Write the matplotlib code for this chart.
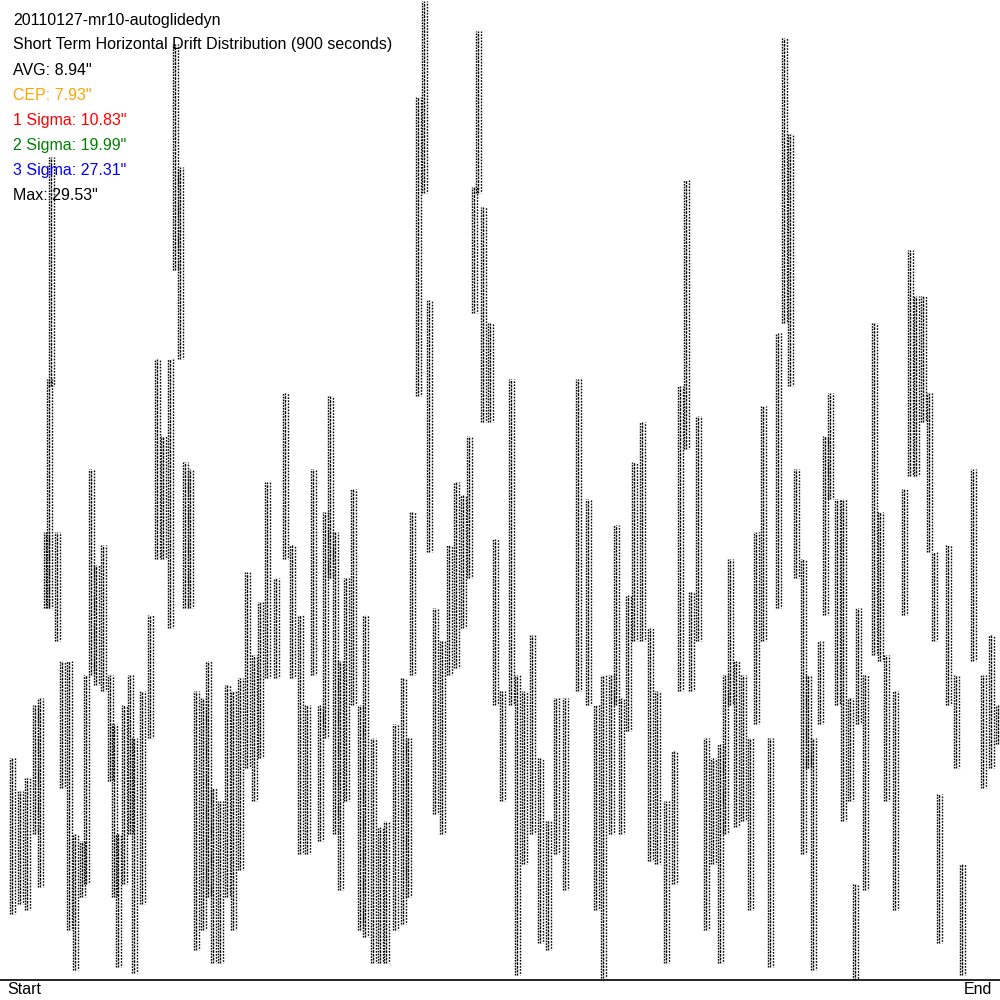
import matplotlib
matplotlib.use("Agg")
import matplotlib.pyplot as plt
import numpy as np

# position along the run (percent of 900 s) and the drift range seen there (arcsec)
pos = [1.2, 2.0, 2.7, 3.5, 4.0, 4.6, 4.9, 5.1, 5.7, 6.2, 6.9, 7.5, 8.2, 8.6, 9.1, 9.6,
       10.3, 11.0, 11.4, 11.8, 12.4, 13.0, 13.4, 14.2, 15.0, 15.7, 16.3, 17.0, 17.5, 18.0,
       18.5, 19.0, 19.6, 20.3, 20.8, 21.3, 22.0, 22.7, 23.3, 24.0, 24.7, 25.4, 26.0, 26.7,
       27.6, 28.5, 29.2, 30.0, 30.7, 31.3, 32.0, 32.5, 33.0, 33.5, 34.0, 34.6, 35.3, 36.0,
       36.5, 37.3, 38.0, 38.6, 39.5, 40.3, 40.8, 41.2, 41.8, 42.4, 42.9, 43.5, 44.2, 44.9,
       45.6, 46.3, 46.9, 47.4, 47.8, 48.3, 49.0, 49.5, 50.2, 51.1, 51.7, 52.4, 53.2, 54.0,
       54.8, 55.6, 56.5, 57.8, 58.8, 59.6, 60.3, 61.1, 61.6, 62.1, 62.8, 63.4, 64.2, 65.0,
       65.7, 66.6, 67.4, 68.0, 68.6, 69.1, 69.8, 70.6, 71.3, 72.0, 72.5, 73.0, 73.6, 74.3,
       75.0, 75.6, 76.3, 77.0, 77.8, 78.4, 79.0, 79.6, 80.3, 80.8, 81.3, 82.0, 82.5, 83.0,
       83.7, 84.3, 85.0, 85.5, 85.8, 86.5, 87.4, 88.0, 88.6, 89.5, 90.4, 91.0, 91.6, 92.3,
       92.9, 93.4, 93.9, 94.8, 95.6, 96.2, 97.3, 98.3, 99.1, 99.8]
drift_hi = [6.7, 5.7, 6.1, 8.3, 8.5, 13.5, 18.1, 24.8, 13.5, 9.6, 9.6, 4.4, 4.2, 9.2, 15.4, 12.5,
            13.1, 9.2, 7.7, 4.4, 8.3, 9.2, 7.3, 8.7, 11.0, 18.7, 16.4, 18.7, 28.2, 24.5,
            15.6, 15.4, 8.7, 8.5, 9.6, 5.8, 5.4, 8.9, 8.7, 9.1, 12.3, 9.8, 11.4, 15.0,
            12.1, 17.7, 13.1, 11.0, 8.3, 15.4, 8.3, 14.1, 17.6, 13.5, 9.6, 12.1, 14.8, 8.3,
            11.0, 7.3, 4.6, 4.8, 7.7, 9.1, 7.3, 14.1, 26.6, 29.5, 20.5, 11.2, 10.2, 13.1,
            15.0, 14.6, 16.4, 23.9, 28.6, 23.3, 19.8, 13.3, 8.7, 18.1, 9.2, 8.7, 10.4, 6.7,
            4.8, 8.5, 8.5, 18.1, 14.5, 8.3, 9.2, 9.2, 13.7, 8.5, 11.6, 15.6, 16.8, 10.6,
            8.7, 5.4, 6.9, 17.9, 24.1, 11.7, 17.0, 7.3, 6.7, 7.1, 9.2, 12.7, 9.6, 9.2,
            7.3, 13.5, 17.3, 7.3, 19.5, 28.4, 25.5, 15.4, 12.7, 9.2, 7.3, 10.2, 16.4, 17.7,
            14.5, 14.5, 8.5, 2.9, 11.2, 9.2, 19.8, 14.1, 9.8, 8.7, 14.8, 22.0, 20.6, 20.6,
            17.7, 12.9, 5.6, 13.1, 9.2, 3.5, 15.4, 9.2, 10.4, 8.3]
drift_lo = [2.0, 2.3, 2.1, 4.4, 2.8, 11.2, 11.2, 17.9, 10.2, 5.8, 1.5, 0.3, 2.5, 2.9, 9.2, 8.9,
            8.7, 6.0, 2.5, 0.4, 2.9, 4.4, 0.2, 2.3, 7.3, 12.7, 12.7, 10.6, 21.4, 18.7,
            11.2, 11.2, 0.9, 1.5, 2.5, 0.5, 0.5, 2.5, 1.5, 3.3, 6.4, 5.4, 6.7, 9.1,
            9.1, 12.7, 9.1, 3.8, 3.8, 9.2, 4.2, 7.3, 12.1, 4.4, 2.7, 5.4, 8.3, 1.5,
            1.3, 0.5, 0.5, 0.5, 1.5, 1.7, 2.5, 9.2, 17.6, 23.7, 12.9, 5.0, 4.4, 9.2,
            9.4, 10.6, 12.1, 20.1, 23.7, 16.8, 16.8, 8.3, 5.4, 8.3, 0.15, 3.5, 4.4, 1.1,
            0.9, 3.8, 2.7, 8.7, 8.3, 2.1, 0.06, 4.4, 8.3, 4.4, 7.5, 10.2, 10.2, 3.6,
            3.5, 0.5, 2.9, 8.7, 16.0, 8.7, 10.2, 1.5, 3.5, 0.5, 4.4, 8.3, 4.6, 4.8,
            2.1, 7.7, 10.2, 0.4, 11.2, 19.8, 17.9, 12.1, 3.8, 6.4, 0.3, 7.7, 11.0, 14.5,
            8.3, 4.8, 5.4, 0.0, 7.7, 2.7, 9.8, 9.6, 5.4, 2.1, 11.0, 15.2, 15.2, 16.8,
            12.9, 10.2, 1.1, 8.3, 6.4, 0.15, 9.6, 5.8, 6.4, 7.1]

run_name = "20110127-mr10-autoglidedyn"
stats = [("Short Term Horizontal Drift Distribution (900 seconds)", "black"),
         ("AVG: 8.94\"", "black"),
         ("CEP: 7.93\"", "orange"),
         ("1 Sigma: 10.83\"", "red"),
         ("2 Sigma: 19.99\"", "green"),
         ("3 Sigma: 27.31\"", "blue"),
         ("Max: 29.53\"", "black")]

plt.rcParams['font.family'] = ['Liberation Sans', 'DejaVu Sans']

fig = plt.figure(figsize=(10, 10), dpi=100)
ax = fig.add_axes([0, 0.02, 1, 0.98])

pos = np.array(pos)
lo = np.array(drift_lo)
hi = np.array(drift_hi)

# each slice is a cloud of samples: draw it as a few dotted vertical strokes
strokes = [(-0.25, (0, (1.2, 0.8))), (0.0, (0.5, (2.0, 0.7))), (0.25, (1, (1.2, 1.0)))]
for dx, ls in strokes:
    ax.vlines(pos + dx, lo, hi, colors='black', linewidth=1.0, linestyles=ls)

ax.set_xlim(0, 100)
ax.set_ylim(0, 29.53)
for s in ['top', 'left', 'right']:
    ax.spines[s].set_visible(False)
ax.spines['bottom'].set_linewidth(1.2)
ax.set_xticks([])
ax.set_yticks([])

fs = 11.5
fig.text(0.013, 0.98, run_name, fontsize=fs, va='center')
for i, (txt, col) in enumerate(stats):
    fig.text(0.013, 0.955 - i * 0.0251, txt, fontsize=fs, color=col, va='center')

fig.text(0.007, 0.01, "Start", fontsize=fs, va='center')
fig.text(0.992, 0.01, "End", fontsize=fs, va='center', ha='right')

fig.savefig("out.png", dpi=100)
